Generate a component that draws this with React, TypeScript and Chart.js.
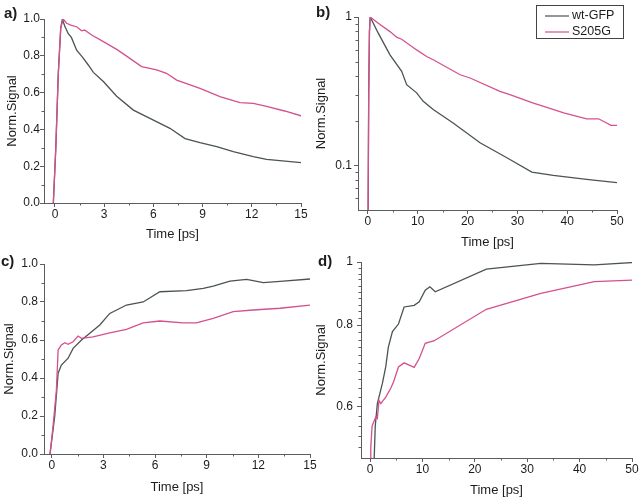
import React, { useEffect, useRef } from "react";
import { Chart, registerables } from "chart.js";

Chart.register(...registerables);

const FONT = '"Liberation Sans", Arial, Helvetica, sans-serif';
const AXIS_COLOR = "#5a5e5e";
const TEXT_COLOR = "#1c1c1c";
const WT_COLOR = "#4b5353";
const MUT_COLOR = "#d4508f";

const seriesNames = ["wt-GFP", "S205G"];
const xTitle = "Time [ps]";
const yTitle = "Norm.Signal";

// ---------- panel a ----------
const aWtTime = [-0.1, 0.05, 0.2, 0.35, 0.45, 0.6, 0.81, 1.0, 1.32, 1.7, 2.03, 2.34, 2.95, 3.76, 4.78, 5.79, 7.01, 7.93, 8.84, 9.86, 10.87, 12.09, 12.9, 15];
const aWtSignal = [0, 0.3, 0.7, 0.95, 1.0, 0.96, 0.92, 0.9, 0.83, 0.79, 0.75, 0.71, 0.66, 0.58, 0.505, 0.46, 0.406, 0.35, 0.328, 0.306, 0.279, 0.252, 0.237, 0.219];
const aMutTime = [-0.1, 0.05, 0.2, 0.35, 0.5, 0.71, 1.0, 1.32, 1.63, 1.8, 2.24, 2.95, 3.76, 4.5, 5.28, 6.2, 6.8, 7.42, 8.84, 10.06, 11.28, 12.09, 12.9, 14, 15];
const aMutSignal = [0, 0.3, 0.7, 0.95, 1.0, 0.977, 0.965, 0.958, 0.936, 0.94, 0.913, 0.877, 0.835, 0.79, 0.741, 0.723, 0.705, 0.668, 0.623, 0.578, 0.545, 0.542, 0.525, 0.5, 0.474];
const aXTicks = [0, 3, 6, 9, 12, 15];
const aXMinor = [1.5, 4.5, 7.5, 10.5, 13.5];
const aYTicks = [0, 0.2, 0.4, 0.6, 0.8, 1.0];
const aYLabels = ["0.0", "0.2", "0.4", "0.6", "0.8", "1.0"];
const aYMinor = [0.1, 0.3, 0.5, 0.7, 0.9];

// ---------- panel b (log) ----------
const bWtTime = [0, 0.15, 0.3, 0.45, 2.07, 4.42, 6.77, 7.77, 9.77, 11.1, 13.1, 17.1, 22.5, 27.8, 32.9, 37.2, 43.9, 50];
const bWtSignal = [0.03, 0.3, 0.8, 1.0, 0.778, 0.556, 0.43, 0.35, 0.308, 0.27, 0.238, 0.193, 0.142, 0.113, 0.09, 0.0857, 0.0805, 0.0765];
const bMutTime = [0, 0.15, 0.3, 0.45, 2.07, 4.42, 5.76, 6.77, 9.77, 11.78, 13.1, 18.5, 20.5, 26.5, 28.5, 33.2, 34.5, 39.3, 43.9, 46.3, 48.8, 50];
const bMutSignal = [0.03, 0.3, 0.8, 1.0, 0.908, 0.797, 0.731, 0.708, 0.6, 0.542, 0.515, 0.408, 0.388, 0.315, 0.3, 0.263, 0.255, 0.226, 0.206, 0.206, 0.186, 0.186];
const bXTicks = [0, 10, 20, 30, 40, 50];
const bXMinor = [5, 15, 25, 35, 45];
const bYTicks = [0.1, 1];
const bYLabels = ["0.1", "1"];
const bYMinor = [0.06, 0.07, 0.08, 0.09, 0.2, 0.3, 0.4, 0.5, 0.6, 0.7, 0.8, 0.9];

// ---------- panel c ----------
const cWtTime = [-0.1, 0.17, 0.37, 0.56, 0.95, 1.24, 1.73, 2.21, 2.79, 3.37, 4.34, 5.31, 6.28, 7.83, 8.8, 9.38, 10.35, 11.32, 12.29, 13.45, 15];
const cWtSignal = [0, 0.196, 0.425, 0.468, 0.504, 0.556, 0.6, 0.635, 0.679, 0.74, 0.784, 0.8, 0.854, 0.86, 0.872, 0.884, 0.91, 0.919, 0.902, 0.91, 0.921];
const cMutTime = [-0.1, 0.08, 0.27, 0.37, 0.56, 0.76, 0.95, 1.24, 1.53, 1.73, 2.4, 3.37, 4.34, 5.31, 6.28, 7.63, 8.4, 9.38, 10.54, 11.7, 13.26, 15];
const cMutSignal = [0, 0.15, 0.337, 0.547, 0.574, 0.586, 0.577, 0.591, 0.621, 0.609, 0.617, 0.638, 0.656, 0.69, 0.7, 0.69, 0.69, 0.714, 0.749, 0.758, 0.767, 0.784];
const cXTicks = [0, 3, 6, 9, 12, 15];
const cXMinor = [1.5, 4.5, 7.5, 10.5, 13.5];
const cYTicks = [0, 0.2, 0.4, 0.6, 0.8, 1.0];
const cYLabels = ["0.0", "0.2", "0.4", "0.6", "0.8", "1.0"];
const cYMinor = [0.1, 0.3, 0.5, 0.7, 0.9];

// ---------- panel d (log) ----------
const dWtTime = [0.7, 0.8, 1.0, 1.4, 2.36, 3.0, 3.5, 4.28, 5.43, 6.51, 8.43, 9.39, 10.54, 11.43, 12.45, 22.2, 32.6, 42.8, 50];
const dWtSignal = [0.4, 0.5, 0.56, 0.606, 0.651, 0.69, 0.74, 0.782, 0.803, 0.853, 0.858, 0.869, 0.905, 0.916, 0.9, 0.975, 0.995, 0.99, 0.998];
const dMutTime = [0.1, 0.15, 0.4, 1.09, 1.4, 1.72, 2.05, 3.0, 3.96, 4.5, 5.43, 6.51, 8.43, 9.39, 10.54, 12.26, 22.2, 32.6, 42.8, 50];
const dMutSignal = [0.45, 0.52, 0.56, 0.578, 0.575, 0.613, 0.606, 0.62, 0.64, 0.655, 0.69, 0.7, 0.689, 0.711, 0.75, 0.757, 0.846, 0.895, 0.933, 0.938];
const dXTicks = [0, 10, 20, 30, 40, 50];
const dXMinor = [5, 15, 25, 35, 45];
const dYTicks = [0.6, 0.8, 1];
const dYLabels = ["0.6", "0.8", "1"];
const dYMinor = [0.52, 0.54, 0.56, 0.58, 0.62, 0.64, 0.66, 0.68, 0.7, 0.72, 0.74, 0.76, 0.78, 0.82, 0.84, 0.86, 0.88, 0.9, 0.92, 0.94, 0.96, 0.98];

type PanelDef = {
  letter: string;
  box: [number, number, number, number]; // page x, y, w, h of canvas
  area: [number, number, number, number]; // page L, T, R, B of plot
  yTitleX: number;
  xTitleY: number;
  letterPos: [number, number];
  xMin: number;
  xMax: number;
  yMin: number;
  yMax: number;
  yType: "linear" | "logarithmic";
  xTicks: number[];
  xMinor: number[];
  yTicks: number[];
  yLabels: string[];
  yMinor: number[];
  yTickPad: number;
  wt: [number[], number[]];
  mut: [number[], number[]];
  legend?: boolean;
};

const panels: PanelDef[] = [
  {
    letter: "a)", box: [0, 0, 320, 250], area: [44, 19, 301, 203], yTitleX: 12, xTitleY: 234, letterPos: [4, 6],
    xMin: -0.67, xMax: 15, yMin: 0, yMax: 1, yType: "linear",
    xTicks: aXTicks, xMinor: aXMinor, yTicks: aYTicks, yLabels: aYLabels, yMinor: aYMinor, yTickPad: 0,
    wt: [aWtTime, aWtSignal], mut: [aMutTime, aMutSignal],
  },
  {
    letter: "b)", box: [305, 0, 335, 250], area: [358, 17, 617, 210], yTitleX: 321, xTitleY: 242, letterPos: [316, 5],
    xMin: -2, xMax: 50, yMin: 0.05, yMax: 1, yType: "logarithmic",
    xTicks: bXTicks, xMinor: bXMinor, yTicks: bYTicks, yLabels: bYLabels, yMinor: bYMinor, yTickPad: 2,
    wt: [bWtTime, bWtSignal], mut: [bMutTime, bMutSignal], legend: true,
  },
  {
    letter: "c)", box: [0, 250, 320, 250], area: [44, 264, 310, 454], yTitleX: 9, xTitleY: 487, letterPos: [1, 254],
    xMin: -0.45, xMax: 15, yMin: 0, yMax: 1, yType: "linear",
    xTicks: cXTicks, xMinor: cXMinor, yTicks: cYTicks, yLabels: cYLabels, yMinor: cYMinor, yTickPad: 2,
    wt: [cWtTime, cWtSignal], mut: [cMutTime, cMutSignal],
  },
  {
    letter: "d)", box: [305, 250, 335, 250], area: [361, 262, 632, 458], yTitleX: 321, xTitleY: 490, letterPos: [318, 254],
    xMin: -1.72, xMax: 50, yMin: 0.5, yMax: 1, yType: "logarithmic",
    xTicks: dXTicks, xMinor: dXMinor, yTicks: dYTicks, yLabels: dYLabels, yMinor: dYMinor, yTickPad: 4,
    wt: [dWtTime, dWtSignal], mut: [dMutTime, dMutSignal],
  },
];

const decorPlugin = {
  id: "decor",
  afterDraw(chart: any, _args: any, opts: any) {
    const ctx = chart.ctx as CanvasRenderingContext2D;
    const xs = chart.scales.x;
    const ys = chart.scales.y;
    ctx.save();
    ctx.strokeStyle = AXIS_COLOR;
    ctx.lineWidth = 1;
    ctx.beginPath();
    for (const v of opts.xMinor as number[]) {
      const p = Math.round(xs.getPixelForValue(v)) + 0.5;
      ctx.moveTo(p, xs.top);
      ctx.lineTo(p, xs.top + 2.5);
    }
    for (const v of opts.yMinor as number[]) {
      const p = Math.round(ys.getPixelForValue(v)) + 0.5;
      ctx.moveTo(ys.right - 2.5, p);
      ctx.lineTo(ys.right, p);
    }
    ctx.stroke();

    ctx.fillStyle = TEXT_COLOR;
    ctx.font = `bold 15px ${FONT}`;
    ctx.textBaseline = "top";
    ctx.textAlign = "left";
    ctx.fillText(opts.letter, opts.letterX, opts.letterY);

    if (opts.legend) {
      const ox = opts.originX;
      const bx = 536 - ox, by = 5, bw = 87, bh = 33;
      ctx.strokeStyle = "#444";
      ctx.lineWidth = 1;
      ctx.strokeRect(bx + 0.5, by + 0.5, bw, bh);
      const colors = [WT_COLOR, MUT_COLOR];
      ctx.font = `12.5px ${FONT}`;
      ctx.textBaseline = "middle";
      ctx.fillStyle = TEXT_COLOR;
      seriesNames.forEach((name, i) => {
        const y = by + 11 + i * 16;
        ctx.strokeStyle = colors[i];
        ctx.lineWidth = 1.2;
        ctx.beginPath();
        ctx.moveTo(bx + 9, y);
        ctx.lineTo(bx + 33, y);
        ctx.stroke();
        ctx.fillText(name, bx + 36, y);
      });
    }
    ctx.restore();
  },
};

function toPoints(t: number[], v: number[]) {
  return t.map((x, i) => ({ x, y: v[i] }));
}

function Panel({ def }: { def: PanelDef }) {
  const ref = useRef<HTMLCanvasElement | null>(null);
  useEffect(() => {
    if (!ref.current) return;
    const [bx, by, bw, bh] = def.box;
    const [L, T, R, B] = def.area;
    const yWidth = L - bx;
    const xHeight = by + bh - B;
    const titleLH = 13 * 1.2;
    const chart = new Chart(ref.current, {
      type: "line",
      data: {
        datasets: [
          {
            label: seriesNames[1],
            data: toPoints(def.mut[0], def.mut[1]),
            borderColor: MUT_COLOR,
            borderWidth: 1.3,
            pointRadius: 0,
            tension: 0,
            fill: false,
          },
          {
            label: seriesNames[0],
            data: toPoints(def.wt[0], def.wt[1]),
            borderColor: WT_COLOR,
            borderWidth: 1.3,
            pointRadius: 0,
            tension: 0,
            fill: false,
          },
        ],
      },
      options: {
        responsive: false,
        animation: false,
        events: [],
        devicePixelRatio: 1,
        layout: {
          padding: { left: 0, top: T - by, right: bx + bw - R, bottom: 0 },
        },
        plugins: {
          legend: { display: false },
          tooltip: { enabled: false },
          decor: {
            xMinor: def.xMinor,
            yMinor: def.yMinor,
            letter: def.letter,
            letterX: def.letterPos[0] - bx,
            letterY: def.letterPos[1] - by,
            legend: !!def.legend,
            originX: bx,
          },
        } as any,
        scales: {
          x: {
            type: "linear",
            position: "bottom",
            min: def.xMin,
            max: def.xMax,
            afterBuildTicks: (s: any) => {
              s.ticks = def.xTicks.map((value) => ({ value }));
            },
            afterFit: (s: any) => {
              s.height = xHeight;
            },
            ticks: {
              autoSkip: false,
              maxRotation: 0,
              padding: 0,
              color: TEXT_COLOR,
              font: { family: FONT, size: 12 },
              callback: (v: any) => String(v),
            },
            grid: {
              drawOnChartArea: false,
              drawTicks: true,
              tickLength: 4,
              color: AXIS_COLOR,
              lineWidth: 1,
            },
            border: { display: true, color: AXIS_COLOR, width: 1 },
            title: {
              display: true,
              text: xTitle,
              color: TEXT_COLOR,
              font: { family: FONT, size: 13 },
              padding: { top: 0, bottom: by + bh - def.xTitleY - titleLH / 2 },
            },
          },
          y: {
            type: def.yType,
            position: "left",
            min: def.yMin,
            max: def.yMax,
            afterBuildTicks: (s: any) => {
              s.ticks = def.yTicks.map((value) => ({ value }));
            },
            afterFit: (s: any) => {
              s.width = yWidth;
            },
            ticks: {
              autoSkip: false,
              padding: def.yTickPad,
              color: TEXT_COLOR,
              font: { family: FONT, size: 12 },
              callback: (v: any) => {
                const i = def.yTicks.findIndex((t) => Math.abs(t - Number(v)) < 1e-9);
                return i >= 0 ? def.yLabels[i] : "";
              },
            },
            grid: {
              drawOnChartArea: false,
              drawTicks: true,
              tickLength: 4,
              color: AXIS_COLOR,
              lineWidth: 1,
            },
            border: { display: true, color: AXIS_COLOR, width: 1 },
            title: {
              display: true,
              text: yTitle,
              color: TEXT_COLOR,
              font: { family: FONT, size: 13 },
              padding: { top: def.yTitleX - bx - titleLH / 2, bottom: 0 },
            },
          },
        },
      } as any,
      plugins: [decorPlugin as any],
    });
    return () => chart.destroy();
  }, [def]);

  const [bx, by, bw, bh] = def.box;
  return (
    <canvas
      ref={ref}
      width={bw}
      height={bh}
      style={{ position: "absolute", left: bx, top: by, width: bw, height: bh, display: "block" }}
    />
  );
}

export default function App() {
  return (
    <div style={{ position: "absolute", left: 0, top: 0, width: 640, height: 500, background: "#ffffff", overflow: "hidden" }}>
      {panels.map((p) => (
        <Panel key={p.letter} def={p} />
      ))}
    </div>
  );
}
